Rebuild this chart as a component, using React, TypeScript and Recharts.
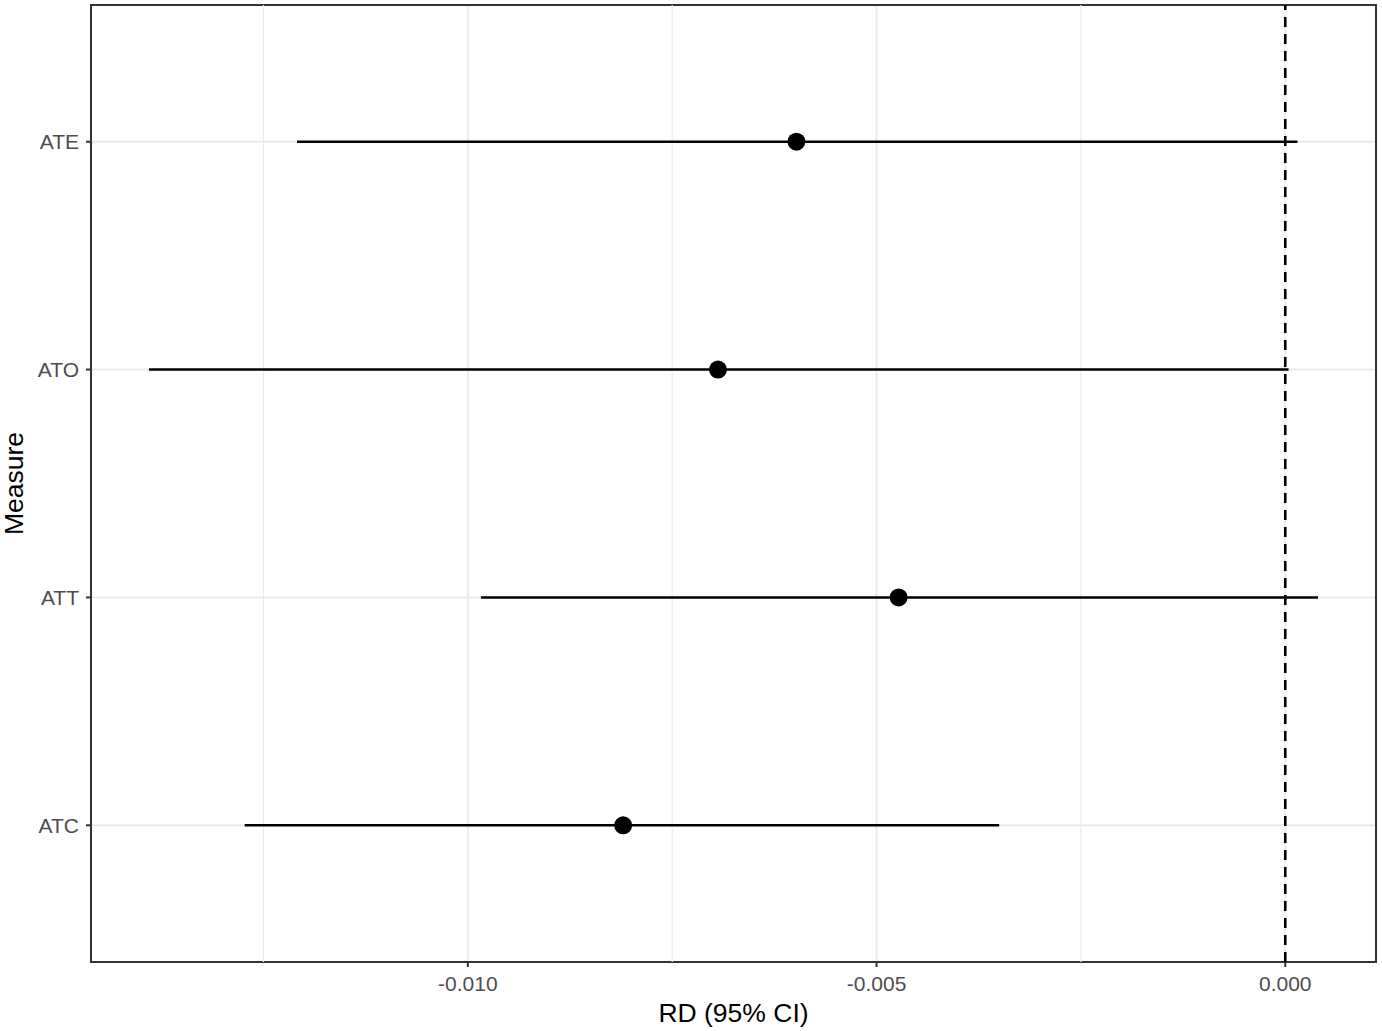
import {
  ScatterChart,
  Scatter,
  XAxis,
  YAxis,
  CartesianGrid,
  ErrorBar,
  ReferenceLine,
  ReferenceArea,
} from "recharts";

// rows from top to bottom
const measures = ["ATE", "ATO", "ATT", "ATC"];
const estimates = [-0.00598, -0.00694, -0.00473, -0.0081];
const lowerCI = [-0.01209, -0.0139, -0.00984, -0.01273];
const upperCI = [0.00015, 0.00004, 0.0004, -0.0035];

const xTicks = [-0.01, -0.005, 0];
const xMinorTicks = [-0.0125, -0.0075, -0.0025];

const X_DOMAIN: [number, number] = [-0.01461, 0.00111];
const Y_DOMAIN: [number, number] = [0.4, 4.6];

const FONT = "'Liberation Sans', Arial, sans-serif";

const data = measures.map((m, i) => ({
  measure: m,
  pos: measures.length - i,
  rd: estimates[i],
  ci: [estimates[i] - lowerCI[i], upperCI[i] - estimates[i]],
}));

function formatTick(value: number): string {
  return value.toFixed(3);
}

function measureLabel(value: number): string {
  return measures[measures.length - value] ?? "";
}

export default function App() {
  return (
    <div style={{ position: "absolute", left: 0, top: 0, background: "#fff" }}>
      <ScatterChart
        width={1382}
        height={1031}
        margin={{ top: 5, right: 6, left: 0, bottom: 0 }}
      >
        <CartesianGrid
          stroke="#ebebeb"
          strokeWidth={2}
          horizontalValues={[1, 2, 3, 4]}
          verticalValues={xTicks}
        />
        {xMinorTicks.map((v) => (
          <ReferenceLine key={v} x={v} stroke="#ebebeb" strokeWidth={1.2} />
        ))}
        <XAxis
          type="number"
          dataKey="rd"
          domain={X_DOMAIN}
          ticks={xTicks}
          allowDataOverflow
          tickFormatter={formatTick}
          height={69}
          axisLine={false}
          tickLine={{ stroke: "#333", strokeWidth: 2 }}
          tickSize={5}
          tickMargin={9}
          tick={{ fill: "#4d4d4d", fontSize: 21, fontFamily: FONT }}
          label={{
            value: "RD (95% CI)",
            position: "insideBottom",
            offset: 9,
            fill: "#000",
            fontSize: 26.5,
            fontFamily: FONT,
          }}
        />
        <YAxis
          type="number"
          dataKey="pos"
          domain={Y_DOMAIN}
          ticks={[1, 2, 3, 4]}
          allowDataOverflow
          tickFormatter={measureLabel}
          width={91}
          axisLine={false}
          tickLine={{ stroke: "#333", strokeWidth: 2 }}
          tickSize={5}
          tickMargin={7}
          tick={{ fill: "#4d4d4d", fontSize: 21, fontFamily: FONT }}
          label={{
            value: "Measure",
            angle: -90,
            position: "insideLeft",
            offset: 14,
            fill: "#000",
            fontSize: 26.5,
            fontFamily: FONT,
            style: { textAnchor: "middle" },
          }}
        />
        <ReferenceArea
          x1={X_DOMAIN[0]}
          x2={X_DOMAIN[1]}
          y1={Y_DOMAIN[0]}
          y2={Y_DOMAIN[1]}
          fill="none"
          stroke="#333"
          strokeWidth={2}
        />
        <ReferenceLine
          x={0}
          stroke="#000"
          strokeWidth={2.6}
          strokeDasharray="10 7"
        />
        <Scatter
          data={data}
          fill="#000"
          isAnimationActive={false}
          shape={(props: any) => (
            <circle cx={props.cx} cy={props.cy} r={9} fill="#000" />
          )}
        >
          <ErrorBar
            dataKey="ci"
            direction="x"
            width={0}
            stroke="#000"
            strokeWidth={2.6}
            isAnimationActive={false}
          />
        </Scatter>
      </ScatterChart>
    </div>
  );
}
